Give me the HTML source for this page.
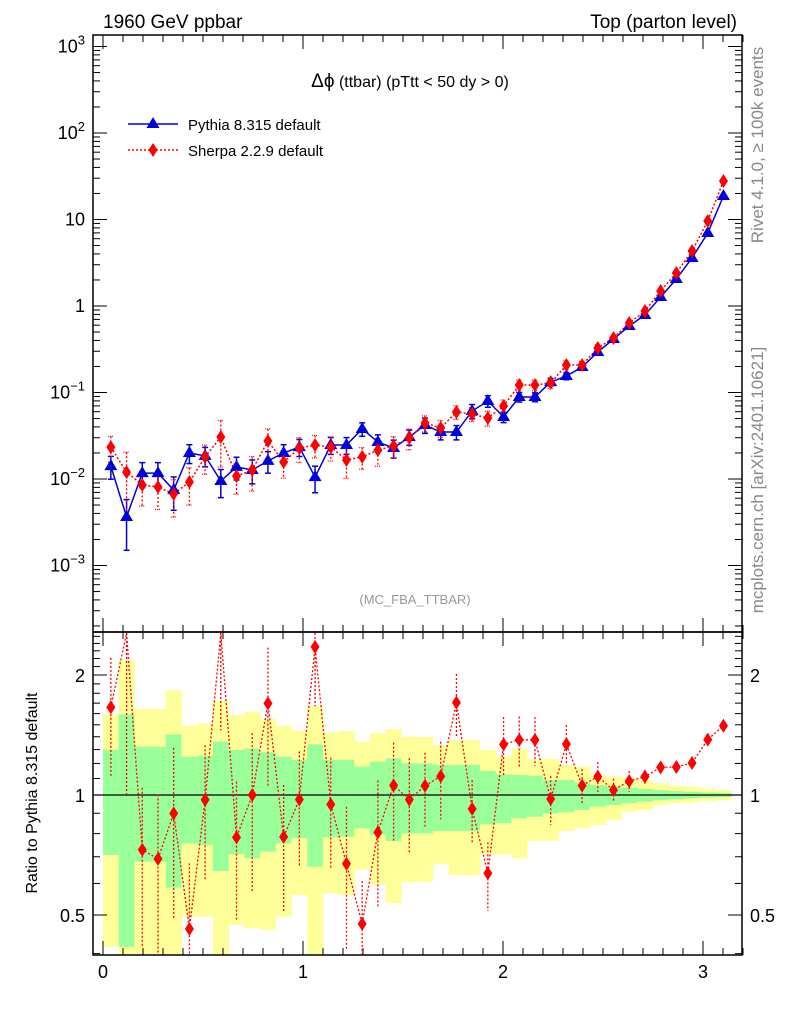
<!DOCTYPE html>
<html><head><meta charset="utf-8"><style>
html,body{margin:0;padding:0;background:#fff;}
svg{display:block;font-family:"Liberation Sans",sans-serif;}
</style></head><body>
<svg id="c" width="786" height="1024" viewBox="0 0 786 1024" xmlns="http://www.w3.org/2000/svg">
<g id="bands"></g><g id="ticks"></g><g id="series"></g>
<rect x="93" y="35" width="649" height="597" fill="none" stroke="#000" stroke-width="1.5"/>
<rect x="93" y="632" width="649" height="323" fill="none" stroke="#000" stroke-width="1.5"/>
<text x="103" y="28" font-size="19">1960 GeV ppbar</text>
<text x="737" y="28" font-size="19" text-anchor="end">Top (parton level)</text>
<text x="410" y="87" font-size="16" text-anchor="middle"><tspan font-size="19">Δϕ</tspan> (ttbar) (pTtt &lt; 50 dy &gt; 0)</text>
<text x="415" y="604" font-size="13" fill="#999" text-anchor="middle">(MC_FBA_TTBAR)</text>
<g>
<line x1="128" y1="124" x2="178" y2="124" stroke="#0000dd" stroke-width="1.5"/>
<polygon points="153,117 159.5,128 146.5,128" fill="#0000dd"/>
<text x="188" y="130" font-size="15">Pythia 8.315 default</text>
<line x1="128" y1="150" x2="178" y2="150" stroke="#f00" stroke-width="1.5" stroke-dasharray="2,2"/>
<polygon points="153,143 157.5,150 153,157 148.5,150" fill="#f00"/>
<text x="188" y="156" font-size="15">Sherpa 2.2.9 default</text>
</g>
<text transform="translate(763,145) rotate(-90)" font-size="17" fill="#888" text-anchor="middle">Rivet 4.1.0, ≥ 100k events</text>
<text transform="translate(763,480) rotate(-90)" font-size="17" fill="#888" text-anchor="middle">mcplots.cern.ch [arXiv:2401.10621]</text>
<text transform="translate(37,793) rotate(-90)" font-size="16" text-anchor="middle">Ratio to Pythia 8.315 default</text>
</svg>
<script>
const pythia=[0.0141,0.00364,0.0117,0.0117,0.00746,0.0200,0.0185,0.00948,0.0138,0.0127,0.0162,0.0200,0.0234,0.0105,0.0247,0.0247,0.0379,0.0268,0.0228,0.0306,0.0421,0.0349,0.0349,0.0611,0.0797,0.0521,0.0887,0.0887,0.132,0.155,0.197,0.294,0.415,0.587,0.787,1.27,2.05,3.59,6.98,18.7];
const sherpa=[0.0234,0.0120,0.00853,0.00809,0.00671,0.00923,0.0180,0.0306,0.0108,0.0127,0.0275,0.0157,0.0228,0.0247,0.0234,0.0166,0.0180,0.0216,0.0241,0.0298,0.0444,0.0389,0.0595,0.0564,0.0507,0.0698,0.122,0.122,0.129,0.208,0.208,0.327,0.427,0.636,0.875,1.49,2.41,4.32,9.61,27.9];
const sherpaErr=[0.33,0.7,0.43,0.45,0.46,0.46,0.37,0.55,0.38,0.43,0.38,0.35,0.32,0.29,0.31,0.39,0.28,0.35,0.28,0.27,0.21,0.22,0.18,0.18,0.196,0.17,0.144,0.14,0.14,0.116,0.1,0.086,0.068,0.06,0.04,0.03,0.025,0.02,0.015,0.01];
const greenHi=[1.297,1.593,1.322,1.322,1.42,1.248,1.255,1.361,1.297,1.309,1.28,1.248,1.224,1.34,1.224,1.224,1.178,1.212,1.236,1.201,1.201,1.189,1.189,1.189,1.149,1.127,1.122,1.118,1.091,1.091,1.076,1.059,1.055,1.043,1.035,1.029,1.023,1.019,1.015,1.012];
const greenLo=[0.707,0.416,0.68,0.68,0.586,0.756,0.749,0.645,0.71,0.694,0.721,0.756,0.779,0.661,0.782,0.786,0.825,0.794,0.767,0.801,0.801,0.812,0.812,0.812,0.844,0.849,0.874,0.882,0.899,0.905,0.917,0.935,0.944,0.953,0.962,0.971,0.975,0.981,0.985,0.988];
const yellowHi=[1.593,2.18,1.643,1.643,1.834,1.493,1.513,1.724,1.587,1.619,1.551,1.493,1.447,1.675,1.436,1.447,1.361,1.428,1.464,1.4,1.4,1.335,1.374,1.374,1.297,1.248,1.309,1.229,1.231,1.189,1.178,1.122,1.112,1.101,1.091,1.07,1.055,1.049,1.039,1.029];
const yellowLo=[0.416,0.3,0.3,0.3,0.3,0.495,0.495,0.3,0.472,0.463,0.459,0.495,0.561,0.3,0.567,0.561,0.649,0.595,0.535,0.604,0.606,0.67,0.63,0.63,0.71,0.71,0.694,0.767,0.767,0.812,0.825,0.841,0.866,0.908,0.917,0.944,0.953,0.958,0.966,0.971];
const xTickLabels=["0","1","2","3"];
const yTickExps=[3,2,1,0,-1,-2,-3];
const ratioTicks=[0.5,1,2];

const NS="http://www.w3.org/2000/svg";
const N=pythia.length, BW=Math.PI/N;
const X=v=>103+200*v;
const Y=v=>306-86.5*Math.log10(v);
const R=v=>795-120*Math.log2(v);
const clipR=y=>Math.max(633,Math.min(954,y));
function mk(tag,attrs,parent){const e=document.createElementNS(NS,tag);for(const k in attrs)e.setAttribute(k,attrs[k]);document.getElementById(parent).appendChild(e);return e;}

for(let i=0;i<N;i++){
  const x0=X(i*BW),x1=X((i+1)*BW);
  let e=mk('rect',{x:x0,y:clipR(R(yellowHi[i])),width:x1-x0+0.3,height:clipR(R(yellowLo[i]))-clipR(R(yellowHi[i])),fill:'#ffff99'},'bands');
  
  
  e=mk('rect',{x:x0,y:clipR(R(greenHi[i])),width:x1-x0+0.3,height:clipR(R(greenLo[i]))-clipR(R(greenHi[i])),fill:'#99ff99'},'bands');
  
  
}
let ref=mk('line',{x1:93,x2:742,y1:R(1),y2:R(1),stroke:'#000','stroke-width':1.3},'bands');



for(let k=0;k<=32;k++){
  const v=k/10, x=X(v), maj=k%10===0, L=maj?14:7;
  [[35,1],[632,-1],[632,1],[955,-1]].forEach(([y0,d])=>mk('line',{x1:x,x2:x,y1:y0,y2:y0+d*L,stroke:'#000','stroke-width':1},'ticks'));
}
xTickLabels.forEach((t,i)=>{const e=mk('text',{x:X(i),y:978,'font-size':18,'text-anchor':'middle'},'ticks');e.textContent=t;

});
for(let ex=-4;ex<=3;ex++){for(let m=1;m<10;m++){const y=Y(m*Math.pow(10,ex));if(y<35||y>632)continue;const L=m===1?14:7;
  mk('line',{x1:93,x2:93+L,y1:y,y2:y,stroke:'#000'},'ticks');mk('line',{x1:742,x2:742-L,y1:y,y2:y,stroke:'#000'},'ticks');}}
yTickExps.forEach(ex=>{const y=Y(Math.pow(10,ex))+6;const t=mk('text',{x:85,y:y,'font-size':18,'text-anchor':'end'},'ticks');
  
  
  if(ex===0)t.textContent='1';else if(ex===1)t.textContent='10';
  else{t.innerHTML='10<tspan dy="-8" font-size="13">'+ex.toString().replace('-','−')+'</tspan>';}});
for(let v=0.4;v<=2.6;v+=0.1){const vv=Math.round(v*10)/10;const y=R(vv);if(y<633||y>954)continue;const L=(vv===0.5||vv===1||vv===2)?14:7;
  mk('line',{x1:93,x2:93+L,y1:y,y2:y,stroke:'#000'},'ticks');mk('line',{x1:742,x2:742-L,y1:y,y2:y,stroke:'#000'},'ticks');}
ratioTicks.forEach(v=>{[[85,'end'],[750,'start']].forEach(([x,a])=>{const t=mk('text',{x:x,y:R(v)+7,'font-size':18,'text-anchor':a},'ticks');t.textContent=String(v);

});});

const xs=pythia.map((_,i)=>X((i+0.5)*BW));
let pl=mk('polyline',{points:xs.map((x,i)=>x+','+Y(pythia[i])).join(' '),fill:'none',stroke:'#0000dd','stroke-width':1.5},'series');


let sl=mk('polyline',{points:xs.map((x,i)=>x+','+Y(sherpa[i])).join(' '),fill:'none',stroke:'#f00','stroke-width':1.5,'stroke-dasharray':'2,2'},'series');


for(let i=0;i<N;i++){
  const x=xs[i];
  const pe=(greenHi[i]-greenLo[i])/2;
  const py1=Y(pythia[i]*(1+pe)),py2=Y(Math.max(pythia[i]*(1-pe),1e-4));
  if(py2-py1>6){mk('line',{x1:x,x2:x,y1:py1,y2:py2,stroke:'#0000dd','stroke-width':1.5},'series');
    mk('line',{x1:x-3,x2:x+3,y1:py1,y2:py1,stroke:'#0000dd','stroke-width':1.5},'series');mk('line',{x1:x-3,x2:x+3,y1:py2,y2:py2,stroke:'#0000dd','stroke-width':1.5},'series');}
  const se=sherpaErr[i];
  const sy1=Y(sherpa[i]*(1+se)),sy2=Y(Math.max(sherpa[i]*(1-se),1e-4));
  if(sy2-sy1>6){mk('line',{x1:x,x2:x,y1:sy1,y2:sy2,stroke:'#f00','stroke-width':1.3,'stroke-dasharray':'2,2'},'series');
    mk('line',{x1:x-3,x2:x+3,y1:sy1,y2:sy1,stroke:'#f00','stroke-width':1.3,'stroke-dasharray':'1,1'},'series');mk('line',{x1:x-3,x2:x+3,y1:sy2,y2:sy2,stroke:'#f00','stroke-width':1.3,'stroke-dasharray':'1,1'},'series');}
  const py=Y(pythia[i]);
  let t=mk('polygon',{points:`${x},${py-7} ${x+6.5},${py+4} ${x-6.5},${py+4}`,fill:'#0000dd'},'series');
  
  
  const sy=Y(sherpa[i]);
  let d=mk('polygon',{points:`${x},${sy-7} ${x+4.5},${sy} ${x},${sy+7} ${x-4.5},${sy}`,fill:'#f00'},'series');
  
  
}
const rat=sherpa.map((s,i)=>s/pythia[i]);
let rl=mk('polyline',{points:xs.map((x,i)=>x+','+clipR(R(rat[i]))).join(' '),fill:'none',stroke:'#f00','stroke-width':1.3,'stroke-dasharray':'2,2'},'series');


for(let i=0;i<N;i++){
  const x=xs[i],r=rat[i],e=sherpaErr[i];
  const y1=clipR(R(r*(1+e))),y2=clipR(R(Math.max(r*(1-e),0.01)));
  mk('line',{x1:x,x2:x,y1:y1,y2:y2,stroke:'#f00','stroke-width':1.3,'stroke-dasharray':'2,2'},'series');
  const y=R(r);
  if(y>633&&y<954){let d=mk('polygon',{points:`${x},${y-7} ${x+4.5},${y} ${x},${y+7} ${x-4.5},${y}`,fill:'#f00'},'series');
  
  }
}
</script>
</body></html>
